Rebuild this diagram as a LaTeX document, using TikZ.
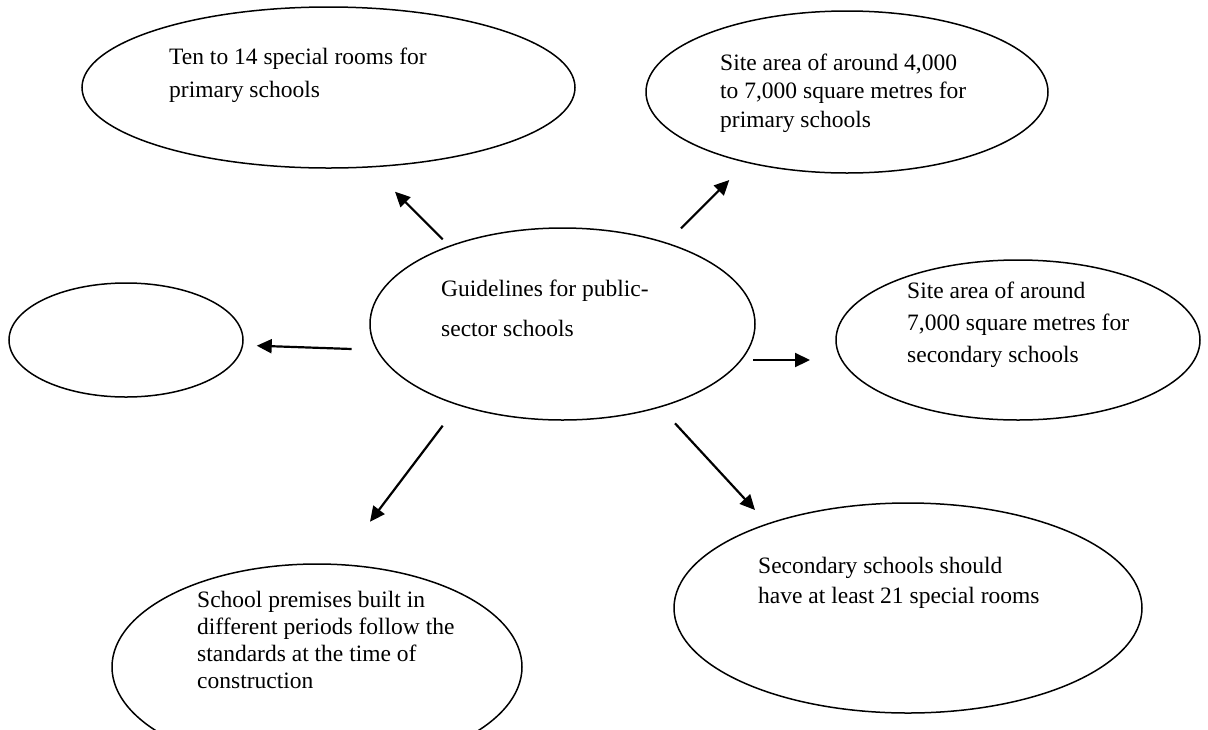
\documentclass[tikz,border=0pt]{standalone}
\usepackage{fontspec}
\setmainfont{Liberation Serif}
\usetikzlibrary{shapes.geometric,arrows.meta}
\begin{document}
\begin{tikzpicture}[x=1pt,y=-1pt,
    bubble/.style={draw,ellipse,line width=1.5pt,inner sep=0pt},
    words/.style={font=\fontsize{23.5}{#1}\selectfont,align=left,inner sep=0pt,anchor=base west},
    pointer/.style={line width=2.2pt,-{Triangle[length=15pt,width=14pt]}}]
    \useasboundingbox (0,0) rectangle (1208,729);
    \clip (0,0) rectangle (1208,729);
    % the bubbles
    \node[bubble,minimum width=493pt,minimum height=161pt] (rooms) at (328.5,87.5) {};
    \node[bubble,minimum width=402pt,minimum height=162pt] (sitepri) at (847,92) {};
    \node[bubble,minimum width=385pt,minimum height=192pt] (guide) at (562.5,324) {};
    \node[bubble,minimum width=234pt,minimum height=114pt] (blank) at (126,340) {};
    \node[bubble,minimum width=364pt,minimum height=160pt] (sitesec) at (1018,340) {};
    \node[bubble,minimum width=410pt,minimum height=206pt] (premises) at (317,667) {};
    \node[bubble,minimum width=468pt,minimum height=210pt] (secrooms) at (908,608) {};
    % the texts (placed at the baseline of the last line)
    \node[words=33] (roomstxt) at (169,97) {Ten to 14 special rooms for\\primary schools};
    \node[words=28.5] (sitepritxt) at (720,127) {Site area of around 4,000\\to 7,000 square metres for\\primary schools};
    \node[words=40] (guidetxt) at (441,336) {Guidelines for public-\\sector schools};
    \node[words=32] (sitesectxt) at (907,362) {Site area of around\\7,000 square metres for\\secondary schools};
    \node[words=27] (premisestxt) at (197,688) {School premises built in\\different periods follow the\\standards at the time of\\construction};
    \node[words=30] (secroomstxt) at (758,603) {Secondary schools should\\have at least 21 special rooms};
    % arrow ends
    \coordinate (s1) at (442.7,239.3); \coordinate (e1) at (395,191.7);
    \coordinate (s2) at (681,228.3);   \coordinate (e2) at (729.3,180);
    \coordinate (s3) at (351.7,349);   \coordinate (e3) at (256.7,345.7);
    \coordinate (s4) at (753,360);     \coordinate (e4) at (810,360);
    \coordinate (s5) at (442.7,425.7); \coordinate (e5) at (370,521.7);
    \coordinate (s6) at (675,423.3);   \coordinate (e6) at (755,510);
    \foreach \k in {1,...,6}
        {\draw[pointer] (s\k)--(e\k);}
\end{tikzpicture}
\end{document}
